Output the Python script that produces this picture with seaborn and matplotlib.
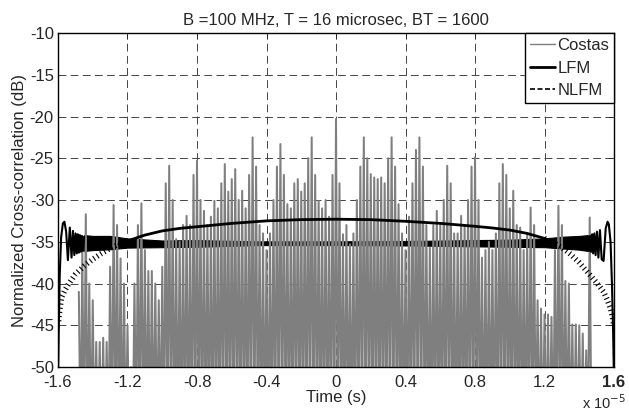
import numpy as np
import pandas as pd
import seaborn as sns
import matplotlib.pyplot as plt
from matplotlib.lines import Line2D

# time in units of 1e-5 s, values in dB
# Costas: peak level read every 0.02 from -1.48 to 1.48
costas_t = np.round(np.arange(-1.48, 1.4801, 0.02), 2)
costas_peak = [
    -41, -36, -31.7, -40, -42, -47, -47, -46.5, -47, -38,
    -30.6, -33, -37, -40, -45, -50, -40, -33, -30.4, -36,
    -38.5, -38.5, -40, -42, -38, -28, -25.9, -30, -34.7, -35,
    -33, -31.9, -33, -27, -25.3, -30, -31.3, -33, -32, -30.1,
    -31, -28, -25.7, -29, -27.5, -26.3, -30, -28.9, -31, -27,
    -22.5, -26, -33, -34, -36, -34, -30, -26, -23.3, -27,
    -30.5, -31, -28, -27.5, -29, -28, -25, -22.5, -27, -30.1,
    -31, -30, -32, -27, -20.3, -28, -34.1, -33, -35.3, -34,
    -30, -26, -22.5, -25, -26.9, -27.3, -27.5, -27.3, -28, -25,
    -22.5, -26, -30.5, -34, -36, -32, -28, -24, -22.5, -26,
    -33, -35.7, -33, -31.3, -33, -30, -25.9, -28, -34, -34,
    -31.9, -33, -30, -26, -24.9, -30, -36.9, -36, -35, -36,
    -34, -28, -25.7, -27, -31, -28.9, -33, -33.3, -36, -34,
    -30.9, -33, -42, -43, -43.7, -43.7, -44, -36, -30.7, -33,
    -39.7, -40, -44.9, -44.9, -45, -46, -48, -32.1, -60,
]
costas_floor = -60

# LFM: ripple near both ends, dense band in between
lfm_left_t = [-1.600, -1.596, -1.590, -1.582, -1.572, -1.563, -1.553, -1.543, -1.532, -1.522,
              -1.514, -1.506, -1.499, -1.492, -1.486, -1.480, -1.474, -1.468, -1.462, -1.456, -1.450]
lfm_left_db = [-52, -46, -39, -34.5, -32.8, -32.6, -33.8, -37.2, -33.3, -36.9,
               -33.7, -36.6, -34.0, -36.4, -34.1, -36.3, -34.2, -36.2, -34.3, -36.1, -34.4]
lfm_right_t = [1.450, 1.456, 1.462, 1.468, 1.474, 1.480, 1.487, 1.494, 1.502, 1.510,
               1.519, 1.529, 1.540, 1.552, 1.563, 1.570, 1.580, 1.588, 1.595, 1.600]
lfm_right_db = [-34.4, -36.1, -34.3, -36.2, -34.1, -36.4, -34.0, -36.6, -33.8, -36.9,
                -33.6, -37.1, -37.3, -33.4, -32.6, -32.9, -35.0, -40, -46, -52]
band_t = [-1.45, -1.40, -1.30, -1.20, -1.00, -0.80, -0.45, 0.0, 0.45, 0.80, 1.00, 1.20, 1.30, 1.40, 1.45]
band_top = [-34.2, -34.3, -34.3, -34.6, -34.85, -34.8, -34.95, -34.95, -34.9, -34.8, -34.75, -34.6, -34.4, -34.3, -34.2]
band_bot = [-36.1, -36.0, -35.9, -35.7, -35.65, -35.6, -35.4, -35.4, -35.45, -35.55, -35.6, -35.65, -35.8, -35.95, -36.1]

# NLFM
nlfm_t = [-1.597, -1.59, -1.58, -1.56, -1.54, -1.50, -1.45, -1.40, -1.35, -1.30, -1.25, -1.20, -1.10,
          -1.00, -0.90, -0.80, -0.60, -0.40, -0.20, 0.00, 0.20, 0.40, 0.60, 0.80, 0.90, 1.00,
          1.10, 1.20, 1.25, 1.30, 1.35, 1.40, 1.45, 1.50, 1.54, 1.56, 1.58, 1.59, 1.597]
nlfm_db = [-44.5, -43.2, -41.7, -40.8, -40.1, -38.9, -37.9, -37.1, -36.4, -35.8, -35.3, -34.9, -34.2,
           -33.7, -33.4, -33.2, -32.8, -32.5, -32.35, -32.3, -32.35, -32.55, -32.8, -33.15, -33.35, -33.6,
           -34.0, -34.6, -35.1, -35.7, -36.5, -37.5, -38.7, -39.9, -41.0, -41.9, -43.0, -43.9, -44.8]

x_ticks = [-1.6, -1.2, -0.8, -0.4, 0, 0.4, 0.8, 1.2, 1.6]
x_labels = ["-1.6", "-1.2", "-0.8", "-0.4", "0", "0.4", "0.8", "1.2", "1.6"]
y_ticks = [-50, -45, -40, -35, -30, -25, -20, -15, -10]

sns.set_style("white")
plt.rcParams['font.family'] = ['Liberation Sans', 'DejaVu Sans']
plt.rcParams['font.size'] = 12
plt.rcParams['axes.unicode_minus'] = False

fig = plt.figure(figsize=(6.29, 4.12), dpi=100)
ax = fig.add_axes([0.0922, 0.1092, 0.8840, 0.8107])

# Costas: alternate between peak and floor to get the dense spiky trace
trace_t = np.empty(2 * len(costas_t))
trace_t[0::2] = costas_t
trace_t[1::2] = costas_t + 0.01
trace_db = np.empty(2 * len(costas_t))
trace_db[0::2] = costas_peak
trace_db[1::2] = costas_floor
costas = pd.DataFrame({"t": trace_t, "db": trace_db})
sns.lineplot(data=costas, x="t", y="db", ax=ax, color="#7f7f7f", linewidth=1.45,
             estimator=None, sort=False, legend=False)

# LFM
ax.fill_between(band_t, band_bot, band_top, color="black", linewidth=0.8)
sns.lineplot(x=lfm_left_t, y=lfm_left_db, ax=ax, color="black", linewidth=1.5,
             estimator=None, sort=False, legend=False)
sns.lineplot(x=lfm_right_t, y=lfm_right_db, ax=ax, color="black", linewidth=1.5,
             estimator=None, sort=False, legend=False)

# NLFM: solid-looking in the middle, ladder-like at the ends
nlfm = pd.DataFrame({"t": nlfm_t, "db": nlfm_db})
mid = nlfm[nlfm["t"].abs() <= 1.25]
sns.lineplot(data=mid, x="t", y="db", ax=ax, color="black", linewidth=2.0,
             estimator=None, sort=False, legend=False)
for part in [nlfm[nlfm["t"] <= -1.2], nlfm[nlfm["t"] >= 1.2]]:
    ax.plot(part["t"], part["db"], color="black", linewidth=4,
            linestyle=(0, (0.2, 0.55)), solid_capstyle="butt")

ax.set_xlim(-1.6, 1.6)
ax.set_ylim(-50, -10)
ax.set_xticks(x_ticks)
ax.set_xticklabels(x_labels)
ax.set_yticks(y_ticks)
ax.get_xticklabels()[-1].set_fontweight("bold")
ax.tick_params(direction="in", length=4, width=0.6, top=True, right=True, labelsize=12, pad=3)
ax.tick_params(axis="x", pad=6)
ax.grid(True, color="#444444", linestyle=(0, (8, 4.5)), linewidth=0.7)
for s in ax.spines.values():
    s.set_color("black")
    s.set_linewidth(1.0)

ax.set_title("B =100 MHz, T = 16 microsec, BT = 1600", fontsize=12, pad=6)
ax.set_xlabel("Time (s)", fontsize=12, labelpad=0)
ax.set_ylabel("Normalized Cross-correlation (dB)", fontsize=12, labelpad=2)
fig.text(0.995, 0.0, r"x 10$^{-5}$", ha="right", va="bottom", fontsize=10.5)

handles = [
    Line2D([], [], color="#7f7f7f", linewidth=1.0),
    Line2D([], [], color="black", linewidth=2.0),
    Line2D([], [], color="black", linewidth=1.2, linestyle=(0, (3, 1.5))),
]
leg = ax.legend(handles, ["Costas", "LFM", "NLFM"], loc="upper right", borderaxespad=0,
                fancybox=False, framealpha=1, edgecolor="black", fontsize=12,
                handlelength=1.5, handletextpad=0.15, labelspacing=0.45, borderpad=0.3)
leg.get_frame().set_linewidth(1.0)

plt.savefig("out.png", dpi=100, facecolor="white")
